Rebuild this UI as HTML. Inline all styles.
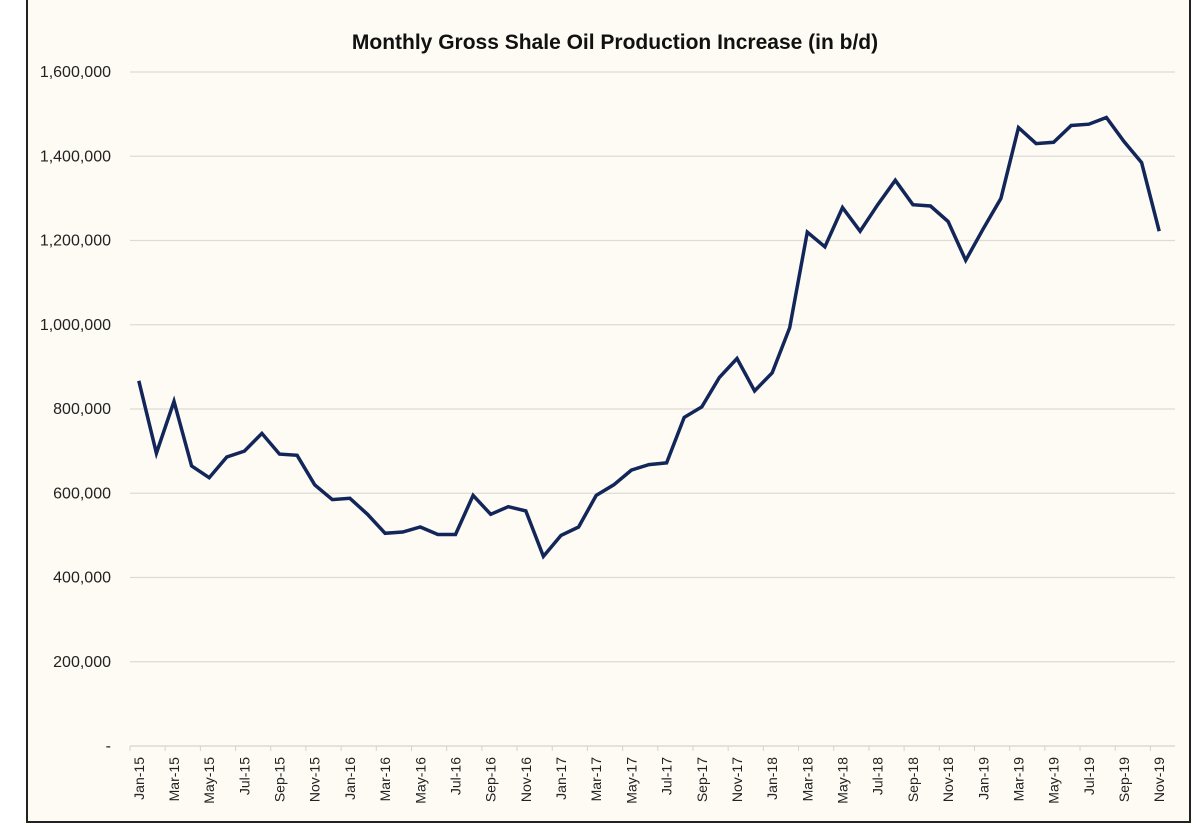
<!DOCTYPE html>
<html><head><meta charset="utf-8"><style>
body{margin:0;background:#fff;}
svg{display:block;font-family:"Liberation Sans",sans-serif;}
</style></head><body>
<svg width="1200" height="838">
<rect x="27" y="-2" width="1163" height="824" fill="#fdfbf3" stroke="#222" stroke-width="2"/>
<text x="615" y="49" text-anchor="middle" font-size="21" font-weight="bold" fill="#111">Monthly Gross Shale Oil Production Increase (in b/d)</text>
<g id="grid"></g><g id="xax"></g><g id="yax"></g><g id="series"></g>
</svg>
<script>
const months=["Jan","Feb","Mar","Apr","May","Jun","Jul","Aug","Sep","Oct","Nov","Dec"];
const categories=[];
for(let y=15;y<=19;y++)for(let m=0;m<12;m++){if(y===19&&m>10)break;categories.push(months[m]+"-"+y);}
const values=[867000,695000,818000,665000,637000,686000,700000,742000,693000,690000,620000,585000,
588000,550000,505000,508000,520000,502000,502000,595000,550000,568000,558000,450000,
500000,520000,595000,620000,655000,668000,672000,780000,805000,875000,920000,843000,
886000,993000,1220000,1185000,1278000,1222000,1285000,1343000,1285000,1282000,1245000,1153000,
1228000,1300000,1468000,1430000,1433000,1473000,1476000,1492000,1435000,1385000,1222000];
const yTicks=[0,200000,400000,600000,800000,1000000,1200000,1400000,1600000];
const yTickLabels=["-","200,000","400,000","600,000","800,000","1,000,000","1,200,000","1,400,000","1,600,000"];
const NS="http://www.w3.org/2000/svg";
const x0=130,x1=1168,y0=746,y1=72,ymax=1600000;
const step=(x1-x0)/categories.length;
const xs=i=>x0+step*(i+0.5);
const ys=v=>y0-(v/ymax)*(y0-y1);
function mk(t,a,p){const e=document.createElementNS(NS,t);for(const k in a)e.setAttribute(k,a[k]);p.appendChild(e);return e;}
const grid=document.getElementById('grid'),yax=document.getElementById('yax'),xax=document.getElementById('xax'),ser=document.getElementById('series');
yTicks.forEach((v,i)=>{
 if(v>0){const g=mk('line',{x1:x0,x2:1175,y1:ys(v),y2:ys(v),stroke:'#dedbd6','stroke-width':1.2},grid);
 
 }
 const t=mk('text',{x:111,y:ys(v)+5,'text-anchor':'end','font-size':16,fill:'#222'},yax);
 t.textContent=yTickLabels[i];
 
 
});
const ax=mk('line',{x1:x0,x2:1175,y1:y0,y2:y0,stroke:'#d6d3ce','stroke-width':1.2},xax);


categories.forEach((c,i)=>{
 if(i%2===0){
  const tk=mk('line',{x1:x0+step*i,x2:x0+step*i,y1:y0,y2:y0+5,stroke:'#d6d3ce'},xax);
  
  
  const cx=xs(i)+5;
  const t=mk('text',{x:cx,y:y0+11,'text-anchor':'end','font-size':14,fill:'#222',transform:`rotate(-90 ${cx} ${y0+11})`},xax);
  t.textContent=c;
  
  
 }
});
const pts=values.map((v,i)=>xs(i).toFixed(1)+","+ys(v).toFixed(1)).join(" ");
const line=mk('polyline',{points:pts,fill:'none',stroke:'#13265a','stroke-width':3.5,'stroke-linejoin':'miter'},ser);


</script>
</body></html>
